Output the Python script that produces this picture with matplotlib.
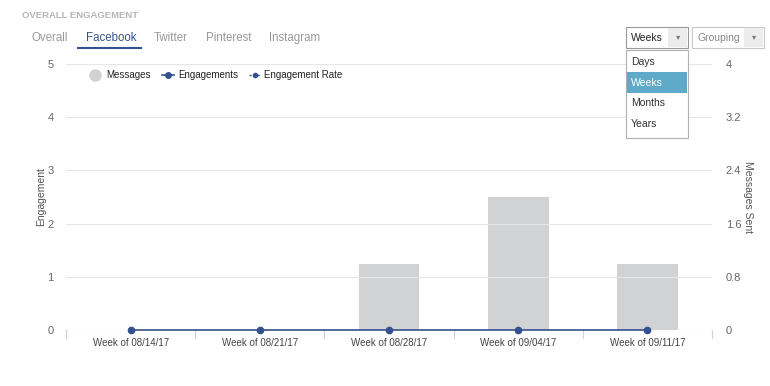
import matplotlib
matplotlib.use("Agg")
import matplotlib.pyplot as plt
from matplotlib.patches import Rectangle
from matplotlib.lines import Line2D

plt.rcParams['font.family'] = ['Liberation Sans', 'DejaVu Sans']

weeks = ["Week of 08/14/17", "Week of 08/21/17", "Week of 08/28/17",
         "Week of 09/04/17", "Week of 09/11/17"]
messages = [0, 0, 1, 2, 1]
engagements = [0, 0, 0, 0, 0]
left_ticks = [0, 1, 2, 3, 4, 5]
right_ticks = [0, 0.8, 1.6, 2.4, 3.2, 4]
tabs = ["Overall", "Facebook", "Twitter", "Pinterest", "Instagram"]
tab_x = [32, 86, 154, 206, 269]
menu_items = ["Days", "Weeks", "Months", "Years"]

W, H = 770, 386
fig = plt.figure(figsize=(W / 100, H / 100), dpi=100)

def fx(px):
    return px / W

def fy(py):
    return 1 - py / H

blue = "#34518f"
tick_col = "#666666"
grid_col = "#e6e6e6"

ax = fig.add_axes([fx(66), fy(330), fx(712) - fx(66), fy(64) - fy(330)])
ax2 = ax.twinx()
ax.set_zorder(ax2.get_zorder() + 1)
ax.patch.set_visible(False)

x = list(range(len(weeks)))
ax2.bar(x, messages, width=0.47, color="#d1d2d4", zorder=2)
ax.plot(x, engagements, color=blue, lw=1.2, marker="o", ms=4.5, zorder=5, clip_on=False)

ax.set_xlim(-0.5, len(weeks) - 0.5)
ax.set_ylim(0, 5)
ax2.set_ylim(0, 4)
ax.set_yticks(left_ticks)
ax.set_yticklabels([str(t) for t in left_ticks])
ax2.set_yticks(right_ticks)
ax2.set_yticklabels(["0", "0.8", "1.6", "2.4", "3.2", "4"])
for t in left_ticks[1:]:
    ax.axhline(t, color=grid_col, lw=0.8, zorder=0)

for a in (ax, ax2):
    for s in a.spines.values():
        s.set_visible(False)
    a.tick_params(axis="y", length=0, labelsize=8, colors=tick_col)
ax.tick_params(axis="y", pad=9)
ax2.tick_params(axis="y", pad=10)

ax.set_xticks(x)
ax.set_xticklabels(weeks)
ax.tick_params(axis="x", length=0, labelsize=7, colors="#444444", pad=6)
for b in [i - 0.5 for i in range(len(weeks) + 1)]:
    ax.plot([b, b], [0, -0.15], color="#c8d2e0", lw=0.8, clip_on=False)
ax.axhline(0, color="#c8d2e0", lw=0.8, zorder=1)

ax.set_ylabel("Engagement", fontsize=7.5, color="#555555")
ax.yaxis.set_label_coords(-0.03, 0.5)
ax2.set_ylabel("Messages Sent", fontsize=7.5, color="#555555", rotation=270, va="center")
ax2.yaxis.set_label_coords(1.055, 0.5)

# legend
fig.add_artist(Line2D([fx(95)], [fy(75)], marker="o", ms=8, color="#d1d2d4", lw=0))
fig.text(fx(106), fy(75), "Messages", fontsize=7, color="#222222", va="center")
fig.add_artist(Line2D([fx(162), fx(174)], [fy(75), fy(75)], color=blue, lw=1.2))
fig.add_artist(Line2D([fx(168)], [fy(75)], marker="o", ms=4, color=blue, lw=0))
fig.text(fx(178), fy(75), "Engagements", fontsize=7, color="#222222", va="center")
fig.add_artist(Line2D([fx(249), fx(261)], [fy(75), fy(75)], color=blue, lw=1, ls=(0, (1.5, 1.5))))
fig.add_artist(Line2D([fx(255)], [fy(75)], marker="o", ms=3, color=blue, lw=0))
fig.text(fx(264), fy(75), "Engagement Rate", fontsize=7, color="#222222", va="center")

# header
fig.text(fx(22), fy(15), "OVERALL ENGAGEMENT", fontsize=6.8, color="#b5b5b5",
         weight="bold", va="center")
for name, tx in zip(tabs, tab_x):
    c = blue if name == "Facebook" else "#999999"
    fig.text(fx(tx), fy(38), name, fontsize=8.3, color=c, va="center")
fig.add_artist(Line2D([fx(78), fx(141)], [fy(48), fy(48)], color=blue, lw=1.5))

# dropdowns
def box(x0, y0, x1, y1, fc, ec, lw=0.8, z=10):
    fig.add_artist(Rectangle((fx(x0), fy(y1)), fx(x1) - fx(x0), fy(y0) - fy(y1),
                             facecolor=fc, edgecolor=ec, lw=lw, zorder=z))

box(626, 27, 688, 48, "white", "#9a9a9a")
box(668, 28, 687, 47, "#ececec", "none")
fig.text(fx(631), fy(38), "Weeks", fontsize=7.5, color="#222222", va="center", zorder=11)
fig.text(fx(678), fy(38), "\u25be", fontsize=6, color="#777777", va="center", ha="center", zorder=11)
box(692, 27, 764, 48, "white", "#c8c8c8")
box(744, 28, 763, 47, "#ececec", "none")
fig.text(fx(697), fy(38), "Grouping", fontsize=7.5, color="#888888", va="center", zorder=11)
fig.text(fx(754), fy(38), "\u25be", fontsize=6, color="#777777", va="center", ha="center", zorder=11)

box(626, 50, 688, 138, "white", "#b0b0b0")
box(627, 72, 687, 93, "#5eaac8", "none", z=11)
for i, item in enumerate(menu_items):
    c = "white" if item == "Weeks" else "#333333"
    fig.text(fx(631), fy(62 + i * 20.7), item, fontsize=7.5, color=c, va="center", zorder=12)

fig.savefig("out.png", dpi=100)
